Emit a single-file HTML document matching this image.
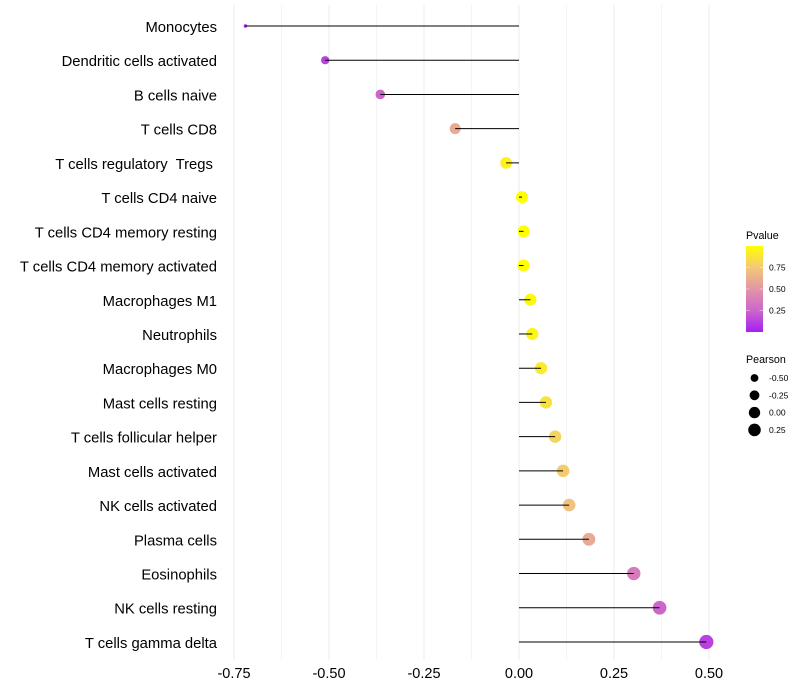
<!DOCTYPE html>
<html>
<head>
<meta charset="utf-8">
<style>
html,body{margin:0;padding:0;background:#fff;}
svg{display:block;}
text{font-family:"Liberation Sans",sans-serif;white-space:pre;}
</style>
</head>
<body>
<svg id="chart" width="800" height="700" viewBox="0 0 800 700" xmlns="http://www.w3.org/2000/svg">
<defs>
<linearGradient id="pgrad" x1="0" y1="1" x2="0" y2="0">
<stop offset="0" stop-color="#a51ff2"/>
<stop offset="0.25" stop-color="#cc66cc"/>
<stop offset="0.5" stop-color="#e295a5"/>
<stop offset="0.75" stop-color="#f3c877"/>
<stop offset="1" stop-color="#ffff00"/>
</linearGradient>
</defs>
<g id="grid"></g>
<g id="segments"></g>
<g id="ylabels"></g>
<g id="xlabels"></g>
<g>
<text x="746" y="239" font-size="10.7" fill="#000">Pvalue</text>
<rect x="746" y="246" width="17" height="86" fill="url(#pgrad)"/>
<g id="cbticks"></g>
</g>
<g id="sizelegend">
<text x="746" y="363" font-size="10.7" fill="#000">Pearson</text>
</g>
</svg>
<script>
const categories = ["Monocytes","Dendritic cells activated","B cells naive","T cells CD8","T cells regulatory  Tregs ","T cells CD4 naive","T cells CD4 memory resting","T cells CD4 memory activated","Macrophages M1","Neutrophils","Macrophages M0","Mast cells resting","T cells follicular helper","Mast cells activated","NK cells activated","Plasma cells","Eosinophils","NK cells resting","T cells gamma delta"];
const pearson = [-0.72,-0.51,-0.365,-0.168,-0.034,0.008,0.012,0.012,0.03,0.035,0.058,0.071,0.095,0.116,0.132,0.184,0.302,0.37,0.493];
const pvalue = [0.0,0.12,0.25,0.6,0.93,1.0,1.0,1.0,0.97,0.95,0.91,0.87,0.8,0.77,0.72,0.6,0.36,0.25,0.12];
const xTicks = [-0.75,-0.5,-0.25,0,0.25,0.5];
const xMinorTicks = [-0.625,-0.375,-0.125,0.125,0.375];
const xTickLabels = ["-0.75","-0.50","-0.25","0.00","0.25","0.50"];
const pTicks = [0.25,0.5,0.75];
const pTickLabels = ["0.25","0.50","0.75"];
const sizeLegendValues = [-0.5,-0.25,0,0.25];
const sizeLegendLabels = ["-0.50","-0.25","0.00","0.25"];

const NS = "http://www.w3.org/2000/svg";
const xScale = v => 519 + v * 380;
const yScale = i => 26 + i * 34.22;
const sizeMin = Math.min(...pearson), sizeMax = Math.max(...pearson);
const rScale = v => {
  const t = Math.max(0, (v - sizeMin) / (sizeMax - sizeMin));
  return 1.7 + 5.4 * Math.pow(t, 0.45);
};
const colorStops = [[165,31,242],[204,102,204],[226,149,165],[243,200,119],[255,255,0]];
const colorScale = p => {
  const t = Math.min(0.9999, Math.max(0, p)) * 4;
  const k = Math.floor(t), f = t - k;
  const a = colorStops[k], b = colorStops[k + 1];
  return "rgb(" + a.map((c, n) => Math.round(c + (b[n] - c) * f)).join(",") + ")";
};
function mk(parent, tag, attrs, txt) {
  const el = document.createElementNS(NS, tag);
  for (const k in attrs) el.setAttribute(k, attrs[k]);
  if (txt !== undefined) el.textContent = txt;
  parent.appendChild(el);
  return el;
}
const grid = document.getElementById("grid");
xMinorTicks.forEach(v => {
  const l = mk(grid, "line", {x1:xScale(v), x2:xScale(v), y1:5, y2:660, stroke:"#f2f2f2", "stroke-width":0.8});
  
  
});
xTicks.forEach(v => {
  const l = mk(grid, "line", {x1:xScale(v), x2:xScale(v), y1:5, y2:660, stroke:"#ebebeb", "stroke-width":1});
  
  
});
const seg = document.getElementById("segments");
categories.forEach((c, i) => {
  const dot = mk(seg, "circle", {cx:xScale(pearson[i]), cy:yScale(i), r:rScale(pearson[i]), fill:colorScale(pvalue[i])});
  
  
  const line = mk(seg, "line", {x1:xScale(0), x2:xScale(pearson[i]), y1:yScale(i), y2:yScale(i), stroke:"#000", "stroke-width":1});
  
  
});
const yl = document.getElementById("ylabels");
categories.forEach((c, i) => {
  const t = mk(yl, "text", {x:217, y:yScale(i) + 6, "text-anchor":"end", "font-size":14.8, fill:"#000"}, c);
  
  
});
const xl = document.getElementById("xlabels");
xTicks.forEach((v, i) => {
  const t = mk(xl, "text", {x:xScale(v), y:678, "text-anchor":"middle", "font-size":14.5, fill:"#000"}, xTickLabels[i]);
  
  
});
const pY = p => 332 - p * 86;
const cb = document.getElementById("cbticks");
pTicks.forEach((p, i) => {
  const a = mk(cb, "line", {x1:746, x2:749.4, y1:pY(p), y2:pY(p), stroke:"#fff", "stroke-opacity":0.6, "stroke-width":0.7});
  
  
  const b = mk(cb, "line", {x1:759.6, x2:763, y1:pY(p), y2:pY(p), stroke:"#fff", "stroke-opacity":0.6, "stroke-width":0.7});
  
  
  const t = mk(cb, "text", {x:769, y:pY(p) + 3, "font-size":8.5, fill:"#000"}, pTickLabels[i]);
  
  
});
const sl = document.getElementById("sizelegend");
sizeLegendValues.forEach((v, i) => {
  const y = 378 + i * 17.3;
  const d = mk(sl, "circle", {cx:754.5, cy:y, r:rScale(v) - 0.3, fill:"#000"});
  
  
  const t = mk(sl, "text", {x:769, y:y + 3, "font-size":8.5, fill:"#000"}, sizeLegendLabels[i]);
  
  
});
</script>
</body>
</html>
